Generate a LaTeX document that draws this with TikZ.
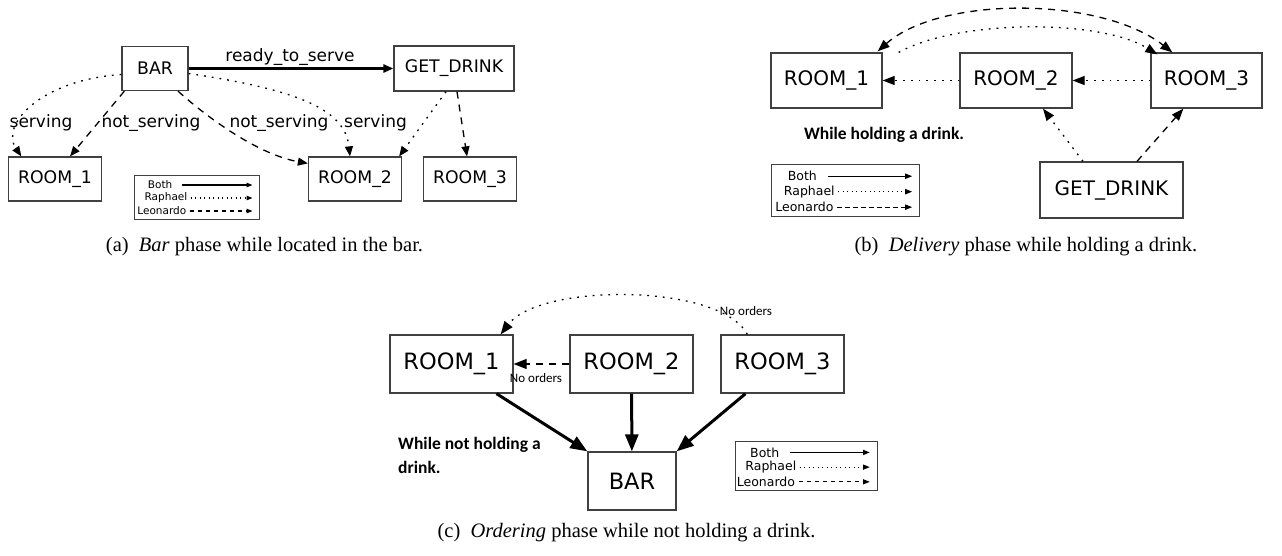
\documentclass[tikz,border=0pt]{standalone}
\usepackage{fontspec}
\setmainfont{Liberation Serif}
\newfontfamily\gvfont{DejaVu Sans}
\newfontfamily\calfont{Carlito}
\usetikzlibrary{arrows.meta,calc}

% legend: prefix, centre, scale, font size
\newcommand{\legendbox}[4]{%
  \begin{scope}[shift={#2}, scale=#3]
    \draw[black!75, line width=0.9pt] (-62.5,-22) rectangle (62.5,22);
    \node[legtext, font=\gvfont\fontsize{#4}{#4}\selectfont] (#1both) at (-23.5,-12) {Both};
    \node[legtext, font=\gvfont\fontsize{#4}{#4}\selectfont] (#1raph) at (-8.5,1) {Raphael};
    \node[legtext, font=\gvfont\fontsize{#4}{#4}\selectfont] (#1leo) at (-9.5,14) {Leonardo};
    \coordinate (#1e1) at (56,-12);
    \coordinate (#1e2) at (56,1);
    \coordinate (#1e3) at (56,14);
    \draw[line width=1.2pt, shorten <={9pt*#3}, -{Triangle[length=6pt,width=4.5pt,scale=#3]}] (#1both.east) -- (#1e1);
    \draw[line width=1.1pt, dash pattern=on 1pt off 3.5pt, shorten <={2.5pt*#3}, -{Triangle[length=6pt,width=4.5pt,scale=#3]}] (#1raph.east) -- (#1e2);
    \draw[line width=1.1pt, dash pattern=on 4.5pt off 3.5pt, shorten <={2.5pt*#3}, -{Triangle[length=6pt,width=4.5pt,scale=#3]}] (#1leo.east) -- (#1e3);
  \end{scope}}

\begin{document}
\begin{tikzpicture}[x=1pt, y=-1pt,
    legtext/.style={anchor=east, inner sep=0.5pt},
    box/.style={draw=black!75, line width=1.3pt, inner sep=0pt},
    boxA/.style={box, minimum width=93pt, minimum height=44pt, font=\gvfont\fontsize{17.3}{20}\selectfont},
    boxB/.style={box, minimum width=111pt, minimum height=55pt, font=\gvfont\fontsize{20}{24}\selectfont},
    boxC/.style={box, minimum width=123pt, minimum height=58pt, font=\gvfont\fontsize{22.5}{26}\selectfont},
    lblA/.style={inner sep=0pt, font=\gvfont\fontsize{17}{20}\selectfont},
    note/.style={inner sep=0pt, font=\calfont\bfseries\fontsize{17.5}{24}\selectfont},
    smalltext/.style={inner sep=0pt, font=\calfont\fontsize{13}{15}\selectfont},
    captext/.style={inner sep=0pt, font=\fontsize{20.5}{24}\selectfont},
    rap/.style={line width=1.3pt, dash pattern=on 1.8pt off 6pt},
    leo/.style={line width=1.3pt, dash pattern=on 7pt off 6pt},
    both/.style={line width=2.6pt},
    tipA/.style={-{Triangle[length=10pt,width=8pt]}},
    tipB/.style={-{Triangle[length=12pt,width=9pt]}},
    tipC/.style={-{Triangle[length=13pt,width=10pt]}},
    tipCC/.style={-{Triangle[length=17pt,width=13pt]}}]
  \useasboundingbox (0,0) rectangle (1282,555);

  % (a) bar phase
  \node[boxA, minimum width=66pt] (barA) at (155,68.5) {BAR};
  \node[boxA, minimum width=120pt, minimum height=45pt] (getA) at (454,68.5) {GET\_DRINK};
  \node[boxA] (roomA1) at (55,179) {ROOM\_1};
  \node[boxA] (roomA2) at (355,179) {ROOM\_2};
  \node[boxA] (roomA3) at (470,179) {ROOM\_3};
  \node[lblA] (readyA) at (290,57) {ready\_to\_serve};
  \node[lblA] (servA1) at (41,123) {serving};
  \node[lblA] (notA1) at (151,123) {not\_serving};
  \node[lblA] (notA2) at (279,123) {not\_serving};
  \node[lblA] (servA2) at (375.5,123) {serving};
  \draw[both, tipA] (barA) -- (getA);
  \draw[rap, tipA] ($(barA.west)+(0,6)$) .. controls (40,80) and (0,125) .. ($(roomA1.north west)+(13.5,0)$);
  \draw[leo, tipA] ($(barA.south west)+(3,0)$) -- ($(roomA1.north)+(15,0)$);
  \draw[leo, tipA] ($(barA.south)+(23,0)$) .. controls (210,120) and (260,155) .. ($(roomA2.north west)+(0,7)$);
  \draw[rap, tipA] ($(barA.east)+(0,5)$) .. controls (300,90) and (345,110) .. ($(roomA2.north)+(-5,0)$);
  \draw[rap, tipA] ($(getA.south)+(-8,0)$) -- ($(roomA2.north east)+(-3,0)$);
  \draw[leo, tipA] ($(getA.south)+(3,0)$) -- ($(roomA3.north)+(-3,0)$);
  \legendbox{la}{(196.5,197)}{1}{10.5}
  \node[captext] (capA) at (264.5,247) {(a)\enspace\textit{Bar} phase while located in the bar.};

  % (b) delivery phase
  \node[boxB] (roomB1) at (826.5,80.5) {ROOM\_1};
  \node[boxB, minimum width=112pt] (roomB2) at (1016,80.5) {ROOM\_2};
  \node[boxB] (roomB3) at (1206.5,80.5) {ROOM\_3};
  \node[boxB, minimum width=143pt, minimum height=56pt] (getB) at (1111.5,190) {GET\_DRINK};
  \node[note] (noteB) at (884,135) {While holding a drink.};
  \draw[rap, tipB] (roomB2) -- (roomB1);
  \draw[rap, tipB] (roomB3) -- (roomB2);
  \draw[rap, tipB] ($(getB.north)+(-28.5,0)$) -- ($(roomB2.south)+(27,0)$);
  \draw[leo, tipB] ($(getB.north)+(25.5,0)$) -- ($(roomB3.south west)+(33,0)$);
  \draw[leo, {Triangle[length=12pt,width=9pt]}-{Triangle[length=12pt,width=9pt]}] ($(roomB1.north east)+(-5,-1)$) .. controls (940,-4) and (1100,-4) .. ($(roomB3.north west)+(22,0)$);
  \draw[rap, tipB] ($(roomB1.north east)+(16,0)$) .. controls (960,19) and (1100,19) .. ($(roomB3.north west)+(7,2)$);
  \legendbox{lb}{(845.5,190.5)}{1.19}{12.5}
  \node[captext] (capB) at (1026,247) {(b)\enspace\textit{Delivery} phase while holding a drink.};

  % (c) ordering phase
  \node[boxC] (roomC1) at (451.5,364) {ROOM\_1};
  \node[boxC] (roomC2) at (631.5,364) {ROOM\_2};
  \node[boxC] (roomC3) at (782.5,364) {ROOM\_3};
  \node[boxC, minimum width=88pt] (barC) at (632,481) {BAR};
  \node[note, anchor=west, align=left] (noteC) at (398,455) {While not holding a\\drink.};
  \node[smalltext] (noC3) at (746,311) {No orders};
  \node[smalltext] (noC2) at (536,378) {No orders};
  \draw[rap, tipC] ($(roomC3.north west)+(27,0)$) .. controls (720,283) and (540,283) .. ($(roomC1.north east)+(-13,0)$);
  \draw[leo, tipC] (roomC2) -- (roomC1);
  \draw[both, line width=3pt, tipCC] ($(roomC1.south)+(45,0)$) -- (barC.north west);
  \draw[both, line width=3pt, tipCC] (roomC2) -- (barC);
  \draw[both, line width=3pt, tipCC] ($(roomC3.south)+(-37,0)$) -- (barC.north east);
  \legendbox{lc}{(806.5,466)}{1.13}{12.5}
  \node[captext] (capC) at (626.5,533) {(c)\enspace\textit{Ordering} phase while not holding a drink.};
\end{tikzpicture}
\end{document}
